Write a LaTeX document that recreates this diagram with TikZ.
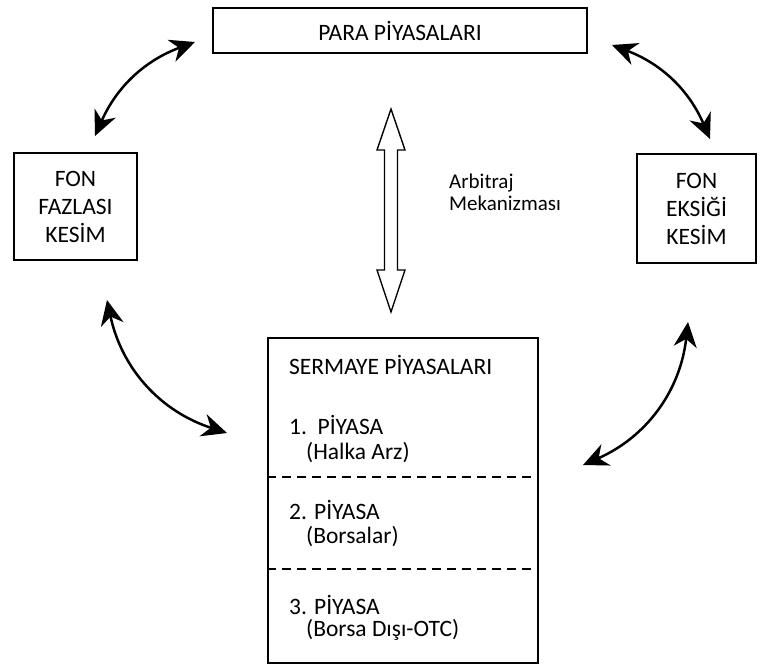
\documentclass[tikz,border=0pt]{standalone}
\usepackage{fontspec}
\setmainfont{Carlito}
\usetikzlibrary{arrows.meta,positioning,calc}

\begin{document}
\begin{tikzpicture}[x=1pt, y=-1pt,
    kutu/.style={draw, line width=1.4pt, align=center, inner sep=0pt,
        font=\fontsize{23.5}{28}\selectfont},
    satir/.style={anchor=west, inner sep=0pt, font=\fontsize{23.5}{28}\selectfont},
    ucu/.tip={Stealth[length=25pt, width=23pt, inset=8pt]},
    cift/.style={ucu-ucu, line width=2.5pt},
    ayrac/.style={line width=1.8pt, dash pattern=on 9pt off 6pt}]
    \useasboundingbox (0,0) rectangle (760,669);

    % boxes
    \node[kutu, minimum width=374pt, minimum height=45pt] (para) at (400,30.5) {PARA P\.IYASALARI};
    \node[kutu, minimum width=123pt, minimum height=107pt] (fazla) at (75.5,206.5) {FON\\FAZLASI\\KES\.IM};
    \node[kutu, minimum width=119pt, minimum height=109pt] (eksik) at (696.5,208.5) {FON\\EKS\.I\u{G}\.I\\KES\.IM};
    \node[kutu, minimum width=270pt, minimum height=325pt] (sermaye) at (403,500.5) {};

    % sermaye piyasalari contents
    \node[satir] (sptitle) at (289,365) {SERMAYE P\.IYASALARI};
    \node[satir] (p1) at (289,425) {1.\ \ P\.IYASA};
    \node[satir] (p1sub) at (306,453) {(Halka Arz)};
    \node[satir] (p2) at (289,510) {2. P\.IYASA};
    \node[satir] (p2sub) at (306,537) {(Borsalar)};
    \node[satir] (p3) at (289,605) {3. P\.IYASA};
    \node[satir] (p3sub) at (306,630) {(Borsa D\i\c{s}\i-OTC)};
    \coordinate (d1) at (0,477);
    \coordinate (d2) at (0,569);
    \draw[ayrac] (sermaye.west |- d1) -- (sermaye.east |- d1);
    \draw[ayrac] (sermaye.west |- d2) -- (sermaye.east |- d2);

    % arbitraj
    \coordinate (arbtop) at (391,109);
    \coordinate (arbbot) at (391,312);
    \draw[line width=1.4pt, line join=miter] (arbtop) -- ++(14,41) -- ++(-7.5,0) -- ($(arbbot)+(6.5,-42)$)
        -- ++(7.5,0) -- (arbbot) -- ++(-14,-42) -- ++(7.5,0) -- ($(arbtop)+(-6.5,41)$) -- ++(-7.5,0) -- cycle;
    \node[anchor=west, align=left, inner sep=0pt, font=\fontsize{21}{21.5}\selectfont] (arbtext) at (449,192.5) {Arbitraj\\Mekanizmas\i};

    % curved arrows
    \coordinate (pl) at (195,42);
    \coordinate (fl) at (95,136);
    \coordinate (pr) at (612,45);
    \coordinate (er) at (710,139);
    \coordinate (fb) at (107,300);
    \coordinate (sl) at (227,433);
    \coordinate (eb) at (688,322);
    \coordinate (sr) at (583,465);
    \draw[cift] (pl) to[bend right=23] (fl);
    \draw[cift] (pr) to[bend left=23] (er);
    \draw[cift] (fb) to[bend right=30] (sl);
    \draw[cift] (eb) to[bend left=30] (sr);
\end{tikzpicture}
\end{document}
